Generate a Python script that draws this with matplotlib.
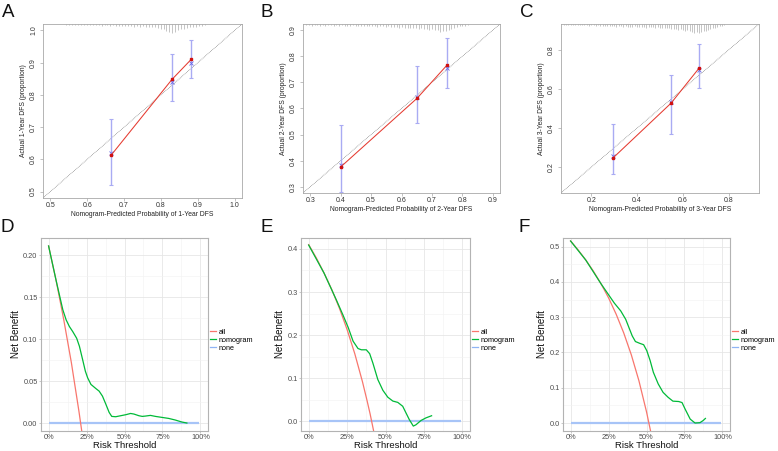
import numpy as np
import matplotlib
matplotlib.use("Agg")
import matplotlib.pyplot as plt
from matplotlib.lines import Line2D
from matplotlib.ticker import MultipleLocator, FixedLocator

plt.rcParams['font.family'] = ['Liberation Sans', 'DejaVu Sans']

# ---------------- Calibration data ----------------
A_pred = [0.665, 0.830, 0.882]
A_obs = [0.613, 0.848, 0.910]
A_lo = [0.521, 0.782, 0.851]
A_hi = [0.724, 0.926, 0.970]
A_bc = [0.620, 0.840, 0.900]

B_pred = [0.401, 0.651, 0.751]
B_obs = [0.377, 0.639, 0.768]
B_lo = [0.280, 0.546, 0.679]
B_hi = [0.538, 0.762, 0.871]
B_bc = [0.385, 0.645, 0.755]

C_pred = [0.294, 0.548, 0.671]
C_obs = [0.246, 0.527, 0.707]
C_lo = [0.166, 0.370, 0.603]
C_hi = [0.419, 0.671, 0.830]
C_bc = [0.255, 0.535, 0.695]

A_rug_start, A_rug_step = 0.543, 0.008
A_rug = [0.1, 0.1, 0.15, 0.1, 0.1, 0.15, 0.1, 0.15, 0.1, 0.15, 0.1, 0.15, 0.2, 0.15, 0.15, 0.2,
         0.15, 0.2, 0.25, 0.2, 0.2, 0.25, 0.2, 0.3, 0.25, 0.3, 0.25, 0.3, 0.35, 0.3, 0.35, 0.4,
         0.5, 0.6, 0.75, 0.9, 1.0, 0.85, 0.7, 0.6, 0.5, 0.45, 0.35, 0.3, 0.3, 0.25, 0.2, 0.15]
B_rug_start, B_rug_step = 0.287, 0.009
B_rug = [0.15, 0.1, 0.2, 0.15, 0.1, 0.2, 0.15, 0.2, 0.1, 0.15, 0.2, 0.15, 0.25, 0.15, 0.2, 0.25,
         0.2, 0.15, 0.25, 0.2, 0.3, 0.2, 0.25, 0.3, 0.2, 0.3, 0.35, 0.25, 0.3, 0.35,
         0.3, 0.35, 0.4, 0.35, 0.45, 0.4, 0.5, 0.45, 0.5, 0.55, 0.5, 0.6, 0.55, 0.65, 0.6, 0.7,
         0.65, 0.75, 0.8, 1.0, 0.9, 0.85, 0.7, 0.6, 0.5, 0.4, 0.3, 0.25, 0.2, 0.15]
C_rug_start, C_rug_step = 0.08, 0.01
C_rug = [0.1, 0.1, 0.15, 0.1, 0.1, 0.15, 0.1, 0.15, 0.15, 0.1, 0.15, 0.2, 0.15, 0.15, 0.2, 0.15,
         0.2, 0.2, 0.25, 0.2, 0.25, 0.2, 0.25, 0.3, 0.25, 0.2, 0.3, 0.25, 0.3, 0.35, 0.3, 0.25,
         0.3, 0.35, 0.3, 0.35, 0.4, 0.35, 0.3, 0.35, 0.4, 0.35, 0.4, 0.45, 0.4, 0.45,
         0.5, 0.55, 0.6, 0.55, 0.65, 0.6, 0.7, 0.75, 0.7, 0.8, 0.85, 1.0, 0.9, 0.95, 0.85, 0.8,
         0.75, 0.7, 0.6, 0.5, 0.4, 0.3, 0.25, 0.2, 0.15]

# ---------------- DCA data ----------------
D_nom_t = [0, 0.05, 0.0937, 0.1155, 0.137, 0.159, 0.185, 0.203, 0.224, 0.242, 0.257, 0.279, 0.312,
           0.333, 0.355, 0.377, 0.399, 0.416, 0.442, 0.475, 0.508, 0.540, 0.562, 0.595, 0.617,
           0.638, 0.671, 0.704, 0.747, 0.791, 0.834, 0.878, 0.911]
D_nom = [0.211, 0.1695, 0.135, 0.123, 0.115, 0.109, 0.101, 0.0915, 0.0757, 0.0619, 0.054, 0.046,
         0.041, 0.038, 0.032, 0.0225, 0.0126, 0.0079, 0.0075, 0.0087, 0.0099, 0.0114, 0.0107,
         0.0087, 0.0079, 0.0083, 0.0091, 0.0079, 0.0067, 0.0055, 0.0036, 0.0012, 0.0]
D_all_t = [0, 0.05, 0.10, 0.15, 0.20, 0.22]
D_all = [0.211, 0.1695, 0.123, 0.072, 0.0138, -0.0116]

E_nom_t = [0, 0.10, 0.181, 0.224, 0.257, 0.289, 0.321, 0.343, 0.375, 0.397, 0.418, 0.45, 0.483,
           0.515, 0.548, 0.58, 0.612, 0.63, 0.655, 0.681, 0.698, 0.731, 0.763, 0.80]
E_nom = [0.409, 0.344, 0.281, 0.246, 0.218, 0.186, 0.169, 0.166, 0.166, 0.157, 0.135, 0.097, 0.072,
         0.056, 0.047, 0.044, 0.035, 0.022, 0.004, -0.011, -0.008, 0.002, 0.008, 0.013]
E_all_t = [0, 0.05, 0.10, 0.15, 0.20, 0.25, 0.30, 0.35, 0.38, 0.40, 0.422]
E_all = [0.41, 0.379, 0.344, 0.306, 0.2625, 0.213, 0.157, 0.092, 0.048, 0.017, -0.021]

F_nom_t = [0, 0.1, 0.2, 0.24, 0.288, 0.33, 0.363, 0.384, 0.406, 0.427, 0.455, 0.481, 0.502, 0.524,
           0.545, 0.577, 0.609, 0.642, 0.674, 0.712, 0.734, 0.755, 0.788, 0.82, 0.852, 0.873, 0.888]
F_nom = [0.516, 0.462, 0.395, 0.37, 0.34, 0.318, 0.294, 0.271, 0.247, 0.231, 0.226, 0.222, 0.205,
         0.177, 0.144, 0.111, 0.087, 0.073, 0.062, 0.061, 0.058, 0.039, 0.011, 0.0, 0.001, 0.007, 0.013]
F_all_t = [0, 0.05, 0.10, 0.15, 0.20, 0.25, 0.30, 0.35, 0.40, 0.45, 0.50, 0.527]
F_all = [0.516, 0.4905, 0.462, 0.4306, 0.395, 0.355, 0.3086, 0.2554, 0.1933, 0.12, 0.032, -0.023]

none_t = [0, 0.99]
none_v = [0, 0]

x_pct_ticks = [0, 0.25, 0.5, 0.75, 1.0]
x_pct_labels = ['0%', '25%', '50%', '75%', '100%']

C_ALL = '#F8766D'
C_NOM = '#00BA38'
C_NONE = '#A7C4F7'

W, H = 778, 451
fig = plt.figure(figsize=(W / 100, H / 100), dpi=100)


def rect(x0, y0, x1, y1):
    return [x0 / W, (H - y1) / H, (x1 - x0) / W, (y1 - y0) / H]


def calib(ax, pred, obs, lo, hi, bc, lim, ticks, rug_start, rug_step, rug, rugmax, xlabel, ylabel):
    ax.set_xlim(lim)
    ax.set_ylim(lim)
    ax.axline((0, 0), (1, 1), color='#666666', lw=0.5, ls=(0, (1.0, 1.3)))
    pos = [rug_start + rug_step * i for i in range(len(rug))]
    ax.vlines(pos, [1 - h * rugmax for h in rug], 1, color='#a5a5a5', lw=0.45,
              transform=ax.get_xaxis_transform())
    obs_a = np.array(obs)
    ax.errorbar(pred, obs, yerr=[obs_a - np.array(lo), np.array(hi) - obs_a], fmt='none',
                ecolor='#a9abf3', elinewidth=1.0, capsize=1.6, capthick=0.8)
    ax.plot(pred, bc, 'x', color='#6a6ae8', ms=2.2, mew=0.6)
    ax.plot(pred, obs, color='#e53a30', lw=0.75, marker='s', ms=1.8, mec='#d01010', mfc='#d01010')
    ax.xaxis.set_major_locator(FixedLocator(ticks))
    ax.yaxis.set_major_locator(FixedLocator(ticks))
    ax.set_xticklabels(['%.1f' % t for t in ticks])
    ax.set_yticklabels(['%.1f' % t for t in ticks], rotation=90, va='center')
    for s in ax.spines.values():
        s.set_color('#a8a8a8')
        s.set_linewidth(0.6)
    ax.tick_params(axis='both', length=2, width=0.5, color='#a8a8a8', labelsize=5.0,
                   labelcolor='#333333')
    ax.tick_params(axis='x', pad=0.8)
    ax.tick_params(axis='y', pad=2.2)
    ax.set_xlabel(xlabel, fontsize=4.9, labelpad=1.5, color='#222222')
    ax.set_ylabel(ylabel, fontsize=4.9, labelpad=2.0, color='#222222')


def dca(ax, nom_t, nom, all_t, all_v, ylim, ystep):
    ax.set_xlim(-0.05, 1.05)
    ax.set_ylim(ylim)
    ax.set_axisbelow(True)
    ax.xaxis.set_major_locator(FixedLocator(x_pct_ticks))
    ax.set_xticklabels(x_pct_labels)
    ax.xaxis.set_minor_locator(MultipleLocator(0.125))
    ax.yaxis.set_major_locator(MultipleLocator(ystep))
    ax.yaxis.set_minor_locator(MultipleLocator(ystep / 2))
    ax.grid(which='major', color='#e6e6e6', lw=0.6)
    ax.grid(which='minor', color='#f2f2f2', lw=0.4)
    ax.plot(none_t, none_v, color=C_NONE, lw=1.6, solid_capstyle='butt', label='none', zorder=2)
    ax.plot(all_t, all_v, color=C_ALL, lw=0.9, label='all', zorder=3)
    ax.plot(nom_t, nom, color=C_NOM, lw=0.9, label='nomogram', zorder=4)
    for s in ax.spines.values():
        s.set_color('#b3b3b3')
        s.set_linewidth(0.8)
    ax.tick_params(axis='both', which='major', length=1.5, width=0.5, color='#b3b3b3',
                   labelsize=5.3, labelcolor='#4d4d4d', pad=1.0)
    ax.tick_params(axis='both', which='minor', length=0)
    ax.set_xlabel('Risk Threshold', fontsize=6.8, labelpad=0.0, color='#111111')
    ax.set_ylabel('Net Benefit', fontsize=7.0, labelpad=1.5, color='#111111')
    handles = [Line2D([], [], color=C_ALL, lw=0.9),
               Line2D([], [], color=C_NOM, lw=0.9),
               Line2D([], [], color='#8fb4f5', lw=0.9)]
    ax.legend(handles, ['all', 'nomogram', 'none'], loc='center left',
              bbox_to_anchor=(1.0, 0.47), frameon=False, fontsize=5.2, handlelength=0.8,
              handletextpad=0.4, labelspacing=0.15, borderaxespad=0.2, borderpad=0.1)


axA = fig.add_axes(rect(43, 24, 242, 198))
calib(axA, A_pred, A_obs, A_lo, A_hi, A_bc, (0.48, 1.02), [0.5, 0.6, 0.7, 0.8, 0.9, 1.0],
      A_rug_start, A_rug_step, A_rug, 0.052,
      'Nomogram-Predicted Probability of 1-Year DFS', 'Actual 1-Year DFS (proportion)')
axB = fig.add_axes(rect(303, 24, 500, 193))
calib(axB, B_pred, B_obs, B_lo, B_hi, B_bc, (0.276, 0.924), [0.3, 0.4, 0.5, 0.6, 0.7, 0.8, 0.9],
      B_rug_start, B_rug_step, B_rug, 0.047,
      'Nomogram-Predicted Probability of 2-Year DFS', 'Actual 2-Year DFS (proportion)')
axC = fig.add_axes(rect(561, 24, 759, 193))
calib(axC, C_pred, C_obs, C_lo, C_hi, C_bc, (0.068, 0.932), [0.2, 0.4, 0.6, 0.8],
      C_rug_start, C_rug_step, C_rug, 0.053,
      'Nomogram-Predicted Probability of 3-Year DFS', 'Actual 3-Year DFS (proportion)')

axD = fig.add_axes(rect(41, 238, 208, 431))
dca(axD, D_nom_t, D_nom, D_all_t, D_all, (-0.0095, 0.2205), 0.05)
axE = fig.add_axes(rect(301, 238, 470, 431))
dca(axE, E_nom_t, E_nom, E_all_t, E_all, (-0.0224, 0.4254), 0.1)
axF = fig.add_axes(rect(563, 238, 730, 431))
dca(axF, F_nom_t, F_nom, F_all_t, F_all, (-0.0226, 0.5245), 0.1)

for letter, x, y in [('A', 2, 4), ('B', 261, 4), ('C', 520, 4),
                     ('D', 1, 219), ('E', 261, 219), ('F', 519, 219)]:
    fig.text(x / W, 1 - y / H, letter, fontsize=13.5, ha='left', va='top', color='#111111')

fig.savefig('out.png', dpi=100)
